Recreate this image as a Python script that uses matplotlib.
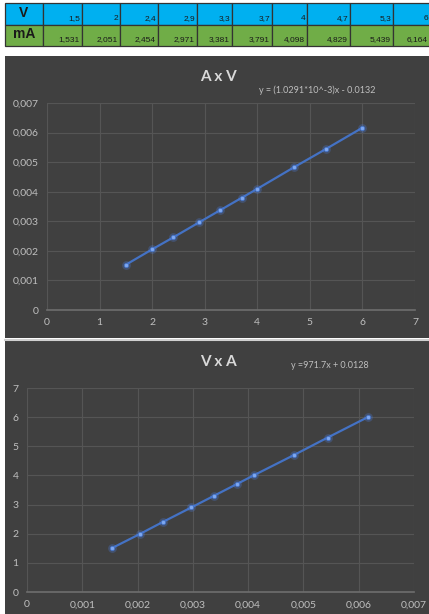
import numpy as np
import matplotlib
matplotlib.use('Agg')
import matplotlib.pyplot as plt
from matplotlib.patches import Rectangle
from matplotlib.ticker import MultipleLocator, FuncFormatter

# measured data
volts = [1.5, 2, 2.4, 2.9, 3.3, 3.7, 4, 4.7, 5.3, 6]
milliamps = [1.531, 2.051, 2.454, 2.971, 3.381, 3.791, 4.098, 4.829, 5.439, 6.164]
volt_labels = ["1,5", "2", "2,4", "2,9", "3,3", "3,7", "4", "4,7", "5,3", "6"]
ma_labels = ["1,531", "2,051", "2,454", "2,971", "3,381", "3,791", "4,098", "4,829", "5,439", "6,164"]
amps = [m / 1000 for m in milliamps]

eq1 = "y = (1.0291*10^-3)x - 0.0132"
eq2 = "y =971.7x + 0.0128"

W, H = 429, 614
BG = "#404040"
GRID = "#555555"
TXT = "#bfbfbf"
BLUE = "#4472C4"

fig = plt.figure(figsize=(W / 100, H / 100), dpi=100)
fig.patch.set_facecolor("white")

# full-figure overlay in pixel coords for table and panels
base = fig.add_axes([0, 0, 1, 1])
base.set_xlim(0, W)
base.set_ylim(H, 0)
base.axis("off")

# ── table ──────────────────────────────────────────────
edges = [5, 43, 82, 120, 158, 197, 232, 272, 307, 350, 393, 430]
rows = [(3, 25, "#00B0F0", "V", volt_labels), (25, 46, "#70AD47", "mA", ma_labels)]
for y0, y1, col, head, labels in rows:
    for i in range(len(edges) - 1):
        base.add_patch(Rectangle((edges[i], y0), edges[i + 1] - edges[i], y1 - y0,
                                 facecolor=col, edgecolor="#333333", lw=0.9))
    base.text((edges[0] + edges[1]) / 2, (y0 + y1) / 2 - 1, head, ha="center", va="center",
              fontsize=10, fontweight="bold", family="Liberation Sans", color="#1a1a1a")
    for i, lab in enumerate(labels):
        base.text(edges[i + 2] - 2, y1 - 3, lab, ha="right", va="bottom",
                  fontsize=6, family="Liberation Sans", color="#1a1a1a")

# ── chart panels ───────────────────────────────────────
base.add_patch(Rectangle((5, 56), W - 5, 282, facecolor=BG, edgecolor="none"))
base.add_patch(Rectangle((5, 341), W - 5, H - 341, facecolor=BG, edgecolor="none"))
base.plot([5, W], [339.5, 339.5], color="#d0d0d0", lw=1.5)


def px_axes(x0, y0, x1, y1):
    return fig.add_axes([x0 / W, 1 - y1 / H, (x1 - x0) / W, (y1 - y0) / H])


def style(ax):
    ax.set_facecolor("none")
    for s in ["top", "right", "left"]:
        ax.spines[s].set_visible(False)
    ax.spines["bottom"].set_color("#6e6e6e")
    ax.spines["bottom"].set_linewidth(1.2)
    ax.grid(True, color=GRID, lw=0.8)
    ax.set_axisbelow(True)
    ax.tick_params(length=0, colors=TXT, labelsize=7.5, pad=6)
    for lab in ax.get_xticklabels() + ax.get_yticklabels():
        lab.set_family("Lato")


def comma(v, _):
    s = f"{v:.3f}".rstrip("0").rstrip(".")
    return s.replace(".", ",")


def draw(ax, x, y):
    ax.plot(x, y, color=BLUE, lw=1.6, zorder=3)
    ax.scatter(x, y, s=40, color="#4f86f7", alpha=0.25, lw=0, zorder=4)
    ax.scatter(x, y, s=10, color="#7fa8f0", edgecolor=BLUE, lw=0.6, zorder=5)


# chart 1: A x V
ax1 = px_axes(47, 103, 415, 310)
draw(ax1, volts, amps)
ax1.set_xlim(0, 7)
ax1.set_ylim(0, 0.007)
ax1.xaxis.set_major_locator(MultipleLocator(1))
ax1.yaxis.set_major_locator(MultipleLocator(0.001))
ax1.yaxis.set_major_formatter(FuncFormatter(comma))
style(ax1)
base.text(218, 77, "A x V", ha="center", va="center", fontsize=11, fontweight="bold",
          family="Lato", color="#d9d9d9")
base.text(317, 90, eq1, ha="center", va="center", fontsize=6.5, family="Lato", color=TXT)

# chart 2: V x A
ax2 = px_axes(27, 388, 414, 592)
draw(ax2, amps, volts)
ax2.set_xlim(0, 0.007)
ax2.set_ylim(0, 7)
ax2.xaxis.set_major_locator(MultipleLocator(0.001))
ax2.yaxis.set_major_locator(MultipleLocator(1))
ax2.xaxis.set_major_formatter(FuncFormatter(comma))
style(ax2)
base.text(218, 362, "V x A", ha="center", va="center", fontsize=11, fontweight="bold",
          family="Lato", color="#d9d9d9")
base.text(330, 366, eq2, ha="center", va="center", fontsize=6.5, family="Lato", color=TXT)

fig.savefig("out.png", dpi=100)
